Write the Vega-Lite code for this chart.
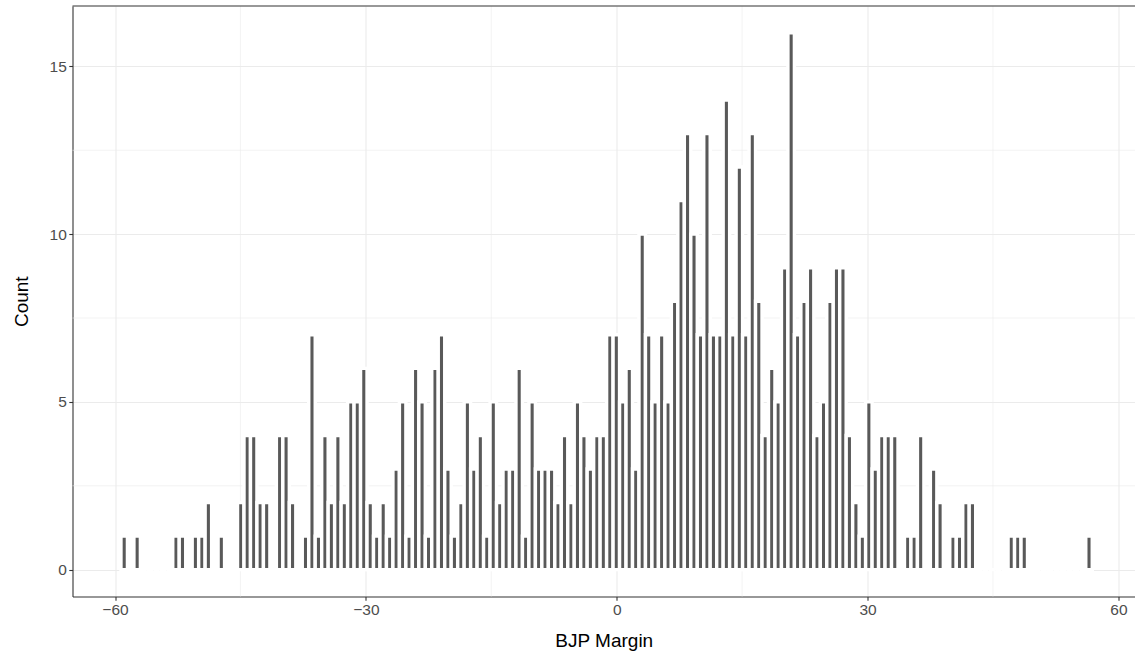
{
  "$schema": "https://vega.github.io/schema/vega-lite/v6.json",
  "autosize": {"type": "none"},
  "padding": {"left": 72.5, "top": 6, "right": 0, "bottom": 63.5},
  "width": 1062.5,
  "height": 590.5,
  "background": "white",
  "config": {
    "view": {"stroke": null},
    "font": "Liberation Sans"
  },
  "datasets": {
    "bins": [
      {"lo": -59.287, "hi": -58.513, "n": 1},
      {"lo": -58.513, "hi": -57.738, "n": 0},
      {"lo": -57.738, "hi": -56.964, "n": 1},
      {"lo": -56.964, "hi": -56.189, "n": 0},
      {"lo": -56.189, "hi": -55.415, "n": 0},
      {"lo": -55.415, "hi": -54.641, "n": 0},
      {"lo": -54.641, "hi": -53.866, "n": 0},
      {"lo": -53.866, "hi": -53.092, "n": 0},
      {"lo": -53.092, "hi": -52.317, "n": 1},
      {"lo": -52.317, "hi": -51.543, "n": 1},
      {"lo": -51.543, "hi": -50.769, "n": 0},
      {"lo": -50.769, "hi": -49.994, "n": 1},
      {"lo": -49.994, "hi": -49.220, "n": 1},
      {"lo": -49.220, "hi": -48.445, "n": 2},
      {"lo": -48.445, "hi": -47.671, "n": 0},
      {"lo": -47.671, "hi": -46.897, "n": 1},
      {"lo": -46.897, "hi": -46.122, "n": 0},
      {"lo": -46.122, "hi": -45.348, "n": 0},
      {"lo": -45.348, "hi": -44.573, "n": 2},
      {"lo": -44.573, "hi": -43.799, "n": 4},
      {"lo": -43.799, "hi": -43.025, "n": 4},
      {"lo": -43.025, "hi": -42.250, "n": 2},
      {"lo": -42.250, "hi": -41.476, "n": 2},
      {"lo": -41.476, "hi": -40.701, "n": 0},
      {"lo": -40.701, "hi": -39.927, "n": 4},
      {"lo": -39.927, "hi": -39.153, "n": 4},
      {"lo": -39.153, "hi": -38.378, "n": 2},
      {"lo": -38.378, "hi": -37.604, "n": 0},
      {"lo": -37.604, "hi": -36.829, "n": 1},
      {"lo": -36.829, "hi": -36.055, "n": 7},
      {"lo": -36.055, "hi": -35.281, "n": 1},
      {"lo": -35.281, "hi": -34.506, "n": 4},
      {"lo": -34.506, "hi": -33.732, "n": 2},
      {"lo": -33.732, "hi": -32.957, "n": 4},
      {"lo": -32.957, "hi": -32.183, "n": 2},
      {"lo": -32.183, "hi": -31.409, "n": 5},
      {"lo": -31.409, "hi": -30.634, "n": 5},
      {"lo": -30.634, "hi": -29.860, "n": 6},
      {"lo": -29.860, "hi": -29.085, "n": 2},
      {"lo": -29.085, "hi": -28.311, "n": 1},
      {"lo": -28.311, "hi": -27.537, "n": 2},
      {"lo": -27.537, "hi": -26.762, "n": 1},
      {"lo": -26.762, "hi": -25.988, "n": 3},
      {"lo": -25.988, "hi": -25.213, "n": 5},
      {"lo": -25.213, "hi": -24.439, "n": 1},
      {"lo": -24.439, "hi": -23.665, "n": 6},
      {"lo": -23.665, "hi": -22.890, "n": 5},
      {"lo": -22.890, "hi": -22.116, "n": 1},
      {"lo": -22.116, "hi": -21.341, "n": 6},
      {"lo": -21.341, "hi": -20.567, "n": 7},
      {"lo": -20.567, "hi": -19.793, "n": 3},
      {"lo": -19.793, "hi": -19.018, "n": 1},
      {"lo": -19.018, "hi": -18.244, "n": 2},
      {"lo": -18.244, "hi": -17.469, "n": 5},
      {"lo": -17.469, "hi": -16.695, "n": 3},
      {"lo": -16.695, "hi": -15.921, "n": 4},
      {"lo": -15.921, "hi": -15.146, "n": 1},
      {"lo": -15.146, "hi": -14.372, "n": 5},
      {"lo": -14.372, "hi": -13.597, "n": 2},
      {"lo": -13.597, "hi": -12.823, "n": 3},
      {"lo": -12.823, "hi": -12.049, "n": 3},
      {"lo": -12.049, "hi": -11.274, "n": 6},
      {"lo": -11.274, "hi": -10.500, "n": 1},
      {"lo": -10.500, "hi": -9.725, "n": 5},
      {"lo": -9.725, "hi": -8.951, "n": 3},
      {"lo": -8.951, "hi": -8.177, "n": 3},
      {"lo": -8.177, "hi": -7.402, "n": 3},
      {"lo": -7.402, "hi": -6.628, "n": 2},
      {"lo": -6.628, "hi": -5.853, "n": 4},
      {"lo": -5.853, "hi": -5.079, "n": 2},
      {"lo": -5.079, "hi": -4.305, "n": 5},
      {"lo": -4.305, "hi": -3.530, "n": 4},
      {"lo": -3.530, "hi": -2.756, "n": 3},
      {"lo": -2.756, "hi": -1.981, "n": 4},
      {"lo": -1.981, "hi": -1.207, "n": 4},
      {"lo": -1.207, "hi": -0.433, "n": 7},
      {"lo": -0.433, "hi": 0.342, "n": 7},
      {"lo": 0.342, "hi": 1.116, "n": 5},
      {"lo": 1.116, "hi": 1.891, "n": 6},
      {"lo": 1.891, "hi": 2.665, "n": 3},
      {"lo": 2.665, "hi": 3.439, "n": 10},
      {"lo": 3.439, "hi": 4.214, "n": 7},
      {"lo": 4.214, "hi": 4.988, "n": 5},
      {"lo": 4.988, "hi": 5.763, "n": 7},
      {"lo": 5.763, "hi": 6.537, "n": 5},
      {"lo": 6.537, "hi": 7.311, "n": 8},
      {"lo": 7.311, "hi": 8.086, "n": 11},
      {"lo": 8.086, "hi": 8.860, "n": 13},
      {"lo": 8.860, "hi": 9.635, "n": 10},
      {"lo": 9.635, "hi": 10.409, "n": 7},
      {"lo": 10.409, "hi": 11.183, "n": 13},
      {"lo": 11.183, "hi": 11.958, "n": 7},
      {"lo": 11.958, "hi": 12.732, "n": 7},
      {"lo": 12.732, "hi": 13.507, "n": 14},
      {"lo": 13.507, "hi": 14.281, "n": 7},
      {"lo": 14.281, "hi": 15.055, "n": 12},
      {"lo": 15.055, "hi": 15.830, "n": 7},
      {"lo": 15.830, "hi": 16.604, "n": 13},
      {"lo": 16.604, "hi": 17.379, "n": 8},
      {"lo": 17.379, "hi": 18.153, "n": 4},
      {"lo": 18.153, "hi": 18.927, "n": 6},
      {"lo": 18.927, "hi": 19.702, "n": 5},
      {"lo": 19.702, "hi": 20.476, "n": 9},
      {"lo": 20.476, "hi": 21.251, "n": 16},
      {"lo": 21.251, "hi": 22.025, "n": 7},
      {"lo": 22.025, "hi": 22.799, "n": 8},
      {"lo": 22.799, "hi": 23.574, "n": 9},
      {"lo": 23.574, "hi": 24.348, "n": 4},
      {"lo": 24.348, "hi": 25.123, "n": 5},
      {"lo": 25.123, "hi": 25.897, "n": 8},
      {"lo": 25.897, "hi": 26.671, "n": 9},
      {"lo": 26.671, "hi": 27.446, "n": 9},
      {"lo": 27.446, "hi": 28.220, "n": 4},
      {"lo": 28.220, "hi": 28.995, "n": 2},
      {"lo": 28.995, "hi": 29.769, "n": 1},
      {"lo": 29.769, "hi": 30.543, "n": 5},
      {"lo": 30.543, "hi": 31.318, "n": 3},
      {"lo": 31.318, "hi": 32.092, "n": 4},
      {"lo": 32.092, "hi": 32.867, "n": 4},
      {"lo": 32.867, "hi": 33.641, "n": 4},
      {"lo": 33.641, "hi": 34.415, "n": 0},
      {"lo": 34.415, "hi": 35.190, "n": 1},
      {"lo": 35.190, "hi": 35.964, "n": 1},
      {"lo": 35.964, "hi": 36.739, "n": 4},
      {"lo": 36.739, "hi": 37.513, "n": 0},
      {"lo": 37.513, "hi": 38.287, "n": 3},
      {"lo": 38.287, "hi": 39.062, "n": 2},
      {"lo": 39.062, "hi": 39.836, "n": 0},
      {"lo": 39.836, "hi": 40.611, "n": 1},
      {"lo": 40.611, "hi": 41.385, "n": 1},
      {"lo": 41.385, "hi": 42.159, "n": 2},
      {"lo": 42.159, "hi": 42.934, "n": 2},
      {"lo": 42.934, "hi": 43.708, "n": 0},
      {"lo": 43.708, "hi": 44.483, "n": 0},
      {"lo": 44.483, "hi": 45.257, "n": 0},
      {"lo": 45.257, "hi": 46.031, "n": 0},
      {"lo": 46.031, "hi": 46.806, "n": 0},
      {"lo": 46.806, "hi": 47.580, "n": 1},
      {"lo": 47.580, "hi": 48.355, "n": 1},
      {"lo": 48.355, "hi": 49.129, "n": 1},
      {"lo": 49.129, "hi": 49.903, "n": 0},
      {"lo": 49.903, "hi": 50.678, "n": 0},
      {"lo": 50.678, "hi": 51.452, "n": 0},
      {"lo": 51.452, "hi": 52.227, "n": 0},
      {"lo": 52.227, "hi": 53.001, "n": 0},
      {"lo": 53.001, "hi": 53.775, "n": 0},
      {"lo": 53.775, "hi": 54.550, "n": 0},
      {"lo": 54.550, "hi": 55.324, "n": 0},
      {"lo": 55.324, "hi": 56.099, "n": 0},
      {"lo": 56.099, "hi": 56.873, "n": 1}
    ],
    "minorX": [{"v": -45}, {"v": -15}, {"v": 15}, {"v": 45}],
    "minorY": [{"v": 2.5}, {"v": 7.5}, {"v": 12.5}]
  },
  "layer": [
    {
      "data": {"name": "minorX"},
      "mark": {"type": "rule", "color": "#EBEBEB", "strokeWidth": 0.6},
      "encoding": {
        "x": {"field": "v", "type": "quantitative"}
      }
    },
    {
      "data": {"name": "minorY"},
      "mark": {"type": "rule", "color": "#EBEBEB", "strokeWidth": 0.6},
      "encoding": {
        "y": {"field": "v", "type": "quantitative"}
      }
    },
    {
      "data": {"name": "bins"},
      "mark": {"type": "bar", "color": "#595959", "stroke": "white", "strokeWidth": 3.4},
      "encoding": {
        "x": {
          "field": "lo",
          "type": "quantitative",
          "scale": {"domain": [-65.083, 61.985], "nice": false, "zero": false},
          "axis": {
            "values": [-60, -30, 0, 30, 60], "format": "d",
            "title": "BJP Margin", "titlePadding": 14,
            "grid": true, "gridColor": "#EBEBEB", "gridWidth": 1.1,
            "domainColor": "#333333", "domainWidth": 1.1,
            "tickColor": "#333333", "tickWidth": 1.1, "tickSize": 3.7,
            "labelColor": "#4D4D4D", "labelFont": "Liberation Sans", "labelFontSize": 15.5, "labelPadding": 2,
            "titleColor": "#000000", "titleFont": "Liberation Sans", "titleFontSize": 19, "titleFontWeight": "normal"
          }
        },
        "x2": {"field": "hi"},
        "y": {
          "field": "n",
          "type": "quantitative",
          "scale": {"domain": [-0.8, 16.8], "nice": false, "zero": false},
          "axis": {
            "values": [0, 5, 10, 15], "format": "d",
            "title": "Count", "titlePadding": 18,
            "grid": true, "gridColor": "#EBEBEB", "gridWidth": 1.1,
            "domainColor": "#333333", "domainWidth": 1.1,
            "tickColor": "#333333", "tickWidth": 1.1, "tickSize": 3.7,
            "labelColor": "#4D4D4D", "labelFont": "Liberation Sans", "labelFontSize": 15.5, "labelPadding": 2.5,
            "titleColor": "#000000", "titleFont": "Liberation Sans", "titleFontSize": 19, "titleFontWeight": "normal"
          }
        },
        "y2": {"datum": 0}
      }
    },
    {
      "data": {"values": [{"top": 16.8}]},
      "mark": {"type": "rule", "color": "#333333", "strokeWidth": 1.1},
      "encoding": {
        "y": {"field": "top", "type": "quantitative"}
      }
    }
  ]
}
